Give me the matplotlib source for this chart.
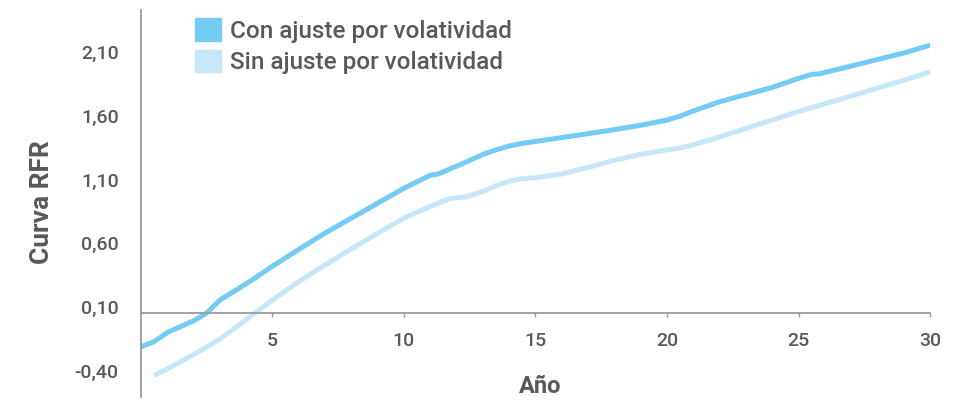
import numpy as np
import matplotlib.pyplot as plt
from matplotlib.patches import Patch
from matplotlib.transforms import ScaledTranslation

plt.rcParams['font.family'] = ['Roboto', 'DejaVu Sans']

# curva con ajuste por volatilidad
anio_con = [0, 0.5, 1, 2, 2.5, 3, 4, 5, 6, 7, 8, 9, 10, 11, 11.3, 12, 13, 13.5, 14, 14.5, 15,
            16, 17, 18, 19, 20, 20.5, 21, 22, 23, 24, 25, 25.5, 25.8, 26, 27, 28, 29, 30]
rfr_con = [-0.165, -0.124, -0.053, 0.039, 0.10, 0.202, 0.329, 0.467, 0.599, 0.727, 0.844,
           0.961, 1.078, 1.180, 1.190, 1.251, 1.343, 1.379, 1.409, 1.430, 1.445, 1.475,
           1.506, 1.537, 1.572, 1.613, 1.643, 1.684, 1.756, 1.812, 1.868, 1.939, 1.970,
           1.975, 1.985, 2.036, 2.087, 2.138, 2.199]

# curva sin ajuste
anio_sin = [0.5, 1, 2, 3, 4, 5, 6, 7, 8, 9, 10, 11, 11.75, 12.4, 13, 13.5, 14, 14.5, 15, 16,
            17, 18, 19, 20, 20.5, 21, 22, 23, 24, 25, 26, 27, 28, 29, 30]
rfr_sin = [-0.389, -0.338, -0.226, -0.104, 0.049, 0.202, 0.347, 0.477, 0.603, 0.725, 0.844,
           0.935, 0.997, 1.012, 1.053, 1.098, 1.134, 1.154, 1.160, 1.190, 1.241, 1.297,
           1.343, 1.379, 1.394, 1.419, 1.480, 1.547, 1.613, 1.679, 1.740, 1.801, 1.863,
           1.924, 1.990]

yticks = [-0.40, 0.10, 0.60, 1.10, 1.60, 2.10]
xticks = [5, 10, 15, 20, 25, 30]

c_con = '#74CBF3'
c_sin = '#C6E6F9'
gris = '#58595B'

fig = plt.figure(figsize=(9.57, 4.0), dpi=100)
ax = fig.add_axes([0.1473, 0.0075, 0.8245, 0.9675])

ax.plot(anio_sin, rfr_sin, color=c_sin, lw=3.6, solid_capstyle='butt', solid_joinstyle='round')
ax.plot(anio_con, rfr_con, color=c_con, lw=3.6, solid_capstyle='butt', solid_joinstyle='round')

ax.set_xlim(0, 30)
ax.set_ylim(-0.558, 2.475)

for s in ['top', 'right']:
    ax.spines[s].set_visible(False)
ax.spines['bottom'].set_position(('data', 0.10))
for s in ['left', 'bottom']:
    ax.spines[s].set_color('#9A9A9A')
    ax.spines[s].set_linewidth(1.3)

ax.set_xticks(xticks)
ax.set_xticklabels([str(x) for x in xticks])
ax.set_yticks(yticks)
ax.set_yticklabels([f'{v:.2f}'.replace('.', ',') for v in yticks])
ax.tick_params(axis='x', length=3, width=1, color='#9A9A9A', pad=11, labelsize=14, labelcolor=gris)
ax.tick_params(axis='y', length=0, pad=16, labelsize=14, labelcolor=gris)
for lab in ax.get_xticklabels() + ax.get_yticklabels():
    lab.set_fontweight('medium')
# the labels sit a little above their value in the original
up = ScaledTranslation(0, 0.06, fig.dpi_scale_trans)
for lab in ax.get_yticklabels():
    lab.set_transform(lab.get_transform() + up)

fig.text(0.0439, 0.495, 'Curva RFR', rotation=90, ha='center', va='center',
         fontsize=19, fontweight='bold', color=gris)
fig.text(0.564, 0.033, 'Año', ha='center', va='center', fontsize=17,
         fontweight='bold', color=gris)

handles = [Patch(color=c_con), Patch(color=c_sin)]
leg = ax.legend(handles, ['Con ajuste por volatividad', 'Sin ajuste por volatividad'],
                loc='upper left', bbox_to_anchor=(195 / 957, 1 - 18 / 400),
                bbox_transform=fig.transFigure, frameon=False, fontsize=17.5,
                handlelength=1.05, handleheight=1.05, handletextpad=0.4,
                labelspacing=0.3, labelcolor=gris, borderaxespad=0, borderpad=0)
for t in leg.get_texts():
    t.set_fontweight('medium')

fig.savefig('out.png', dpi=100)
